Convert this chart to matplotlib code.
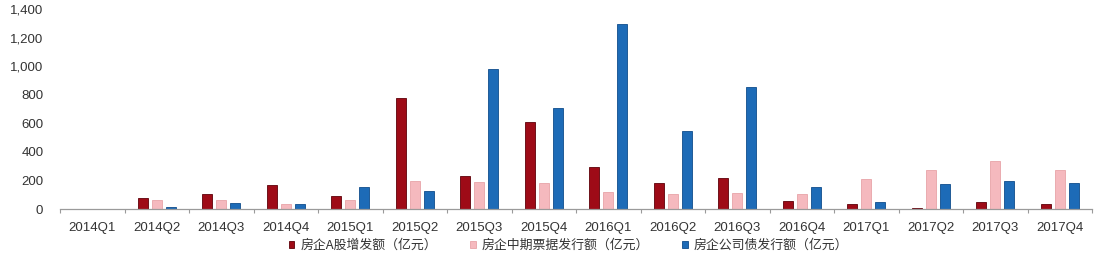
import matplotlib
matplotlib.use("Agg")
import matplotlib.pyplot as plt
import numpy as np
from matplotlib.ticker import FuncFormatter, FixedLocator

plt.rcParams['font.family'] = ['Liberation Sans', 'Noto Sans CJK SC', 'DejaVu Sans']

categories = ["2014Q1", "2014Q2", "2014Q3", "2014Q4", "2015Q1", "2015Q2", "2015Q3", "2015Q4",
              "2016Q1", "2016Q2", "2016Q3", "2016Q4", "2017Q1", "2017Q2", "2017Q3", "2017Q4"]
a_share = [0, 78, 105, 168, 93, 780, 233, 610, 296, 184, 219, 54, 33, 7, 47, 35]
mtn = [0, 60, 63, 37, 63, 198, 187, 184, 117, 103, 112, 103, 212, 271, 338, 273]
corp_bond = [0, 15, 42, 35, 154, 128, 978, 705, 1293, 544, 852, 156, 51, 175, 196, 180]
series_names = ["房企A股增发额（亿元）", "房企中期票据发行额（亿元）", "房企公司债发行额（亿元）"]
yticks = [0, 200, 400, 600, 800, 1000, 1200, 1400]

colors = ["#9E0B17", "#F5B9BE", "#1D6BB7"]
edges = ["#5E0008", "#E8A3A8", "#0F4D8C"]

fig = plt.figure(figsize=(11.04, 2.56), dpi=100)
ax = fig.add_axes([60/1104, 47/256, (1092-60)/1104, (247-47)/256])

x = np.arange(len(categories))
w = 0.155
off = 0.217
for i, (vals, c, e, name) in enumerate(zip([a_share, mtn, corp_bond], colors, edges, series_names)):
    ax.bar(x + (i - 1) * off, vals, width=w, color=c, edgecolor=e, linewidth=0.6, label=name)

ax.set_xlim(-0.5, len(categories) - 0.5)
ax.set_ylim(0, 1400)
ax.set_yticks(yticks)
ax.yaxis.set_major_formatter(FuncFormatter(lambda v, p: f"{int(v):,}"))
ax.set_xticks(x)
ax.set_xticklabels(categories)
ax.xaxis.set_minor_locator(FixedLocator(np.arange(-0.5, len(categories), 1.0)))
ax.tick_params(axis='x', which='major', length=0, pad=9, labelsize=9.5, labelcolor='#333333')
ax.tick_params(axis='x', which='minor', length=3, width=0.8, color='#9a9a9a', direction='out')
ax.tick_params(axis='y', length=0, pad=12, labelsize=9.5, labelcolor='#333333')
for s in ['top', 'right', 'left']:
    ax.spines[s].set_visible(False)
ax.spines['bottom'].set_color('#9a9a9a')
ax.spines['bottom'].set_linewidth(0.9)

leg = fig.legend(loc='center', bbox_to_anchor=(0.515, 0.04), ncol=3, frameon=False,
                 handlelength=0.4, handleheight=0.4, handletextpad=0.45, columnspacing=2.6,
                 prop={'family': ['Noto Sans CJK SC', 'DejaVu Sans'], 'size': 9.3})
for t in leg.get_texts():
    t.set_color('#333333')

fig.savefig("out.png", dpi=100, facecolor='white')
